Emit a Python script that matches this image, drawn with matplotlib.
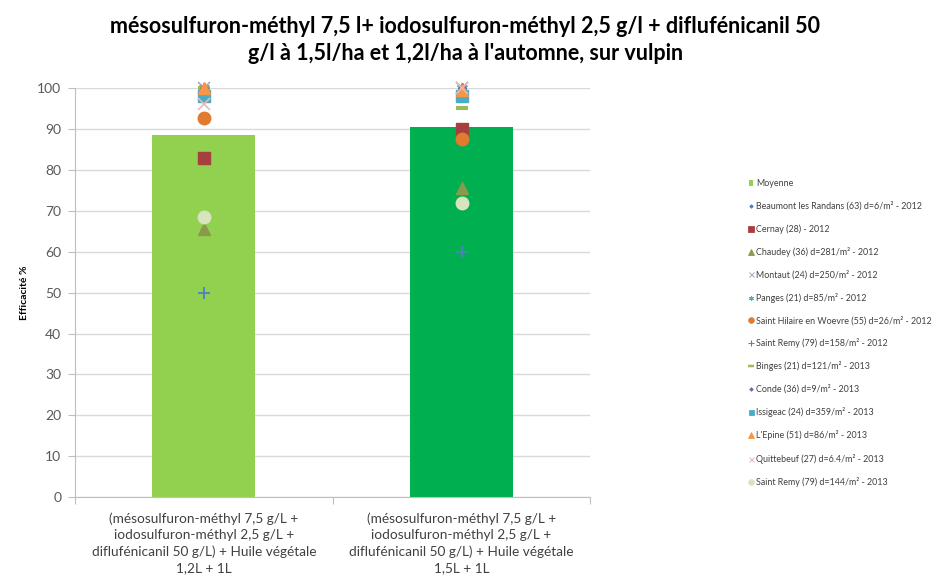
import matplotlib
matplotlib.use("Agg")
import matplotlib.pyplot as plt
from matplotlib.lines import Line2D
from matplotlib.patches import Patch

plt.rcParams['font.family'] = ['Lato', 'DejaVu Sans']

categories = [
    "(mésosulfuron-méthyl 7,5 g/L +\niodosulfuron-méthyl 2,5 g/L +\ndiflufénicanil 50 g/L) + Huile végétale\n1,2L + 1L",
    "(mésosulfuron-méthyl 7,5 g/L +\niodosulfuron-méthyl 2,5 g/L +\ndiflufénicanil 50 g/L) + Huile végétale\n1,5L + 1L",
]
moyenne = [88.5, 90.4]

site_names = [
    "Beaumont les Randans (63) d=6/m² - 2012",
    "Cernay (28) - 2012",
    "Chaudey (36) d=281/m² - 2012",
    "Montaut (24) d=250/m² - 2012",
    "Panges (21) d=85/m² - 2012",
    "Saint Hilaire en Woevre (55) d=26/m² - 2012",
    "Saint Remy (79) d=158/m² - 2012",
    "Binges (21) d=121/m² - 2013",
    "Conde (36) d=9/m² - 2013",
    "Issigeac (24) d=359/m² - 2013",
    "L'Epine (51) d=86/m² - 2013",
    "Quittebeuf (27) d=6.4/m² - 2013",
    "Saint Remy (79) d=144/m² - 2013",
]
site_values = [
    [100, 100],
    [83, 90],
    [65.5, 75.5],
    [100, 100],
    [100, 100],
    [92.6, 87.5],
    [50, 60],
    [100, 95],
    [100, 100],
    [98, 98],
    [100, 99.5],
    [96, 100],
    [68.5, 71.8],
]

site_styles = [
    dict(marker='D', color='#4F81BD', ms=4),
    dict(marker='s', color='#A5403E', ms=9),
    dict(marker='^', color='#8A9A4A', ms=9),
    dict(marker='x', color='#B3A2C7', ms=8, mew=1.2),
    dict(marker=(6, 2, 0), color='#4BACC6', ms=8, mew=1.2),
    dict(marker='o', color='#E07B30', ms=9),
    dict(marker='+', color='#4F81BD', ms=9, mew=1.3),
    dict(marker='_', color='#9BBB59', ms=9, mew=3),
    dict(marker='D', color='#8064A2', ms=4),
    dict(marker='s', color='#4BACC6', ms=8),
    dict(marker='^', color='#F79646', ms=9),
    dict(marker='x', color='#E6B9B8', ms=8, mew=1.2),
    dict(marker='o', color='#D7E4BD', ms=9),
]

bar_colors = ['#92D050', '#00B050']

fig = plt.figure(figsize=(9.44, 5.85), dpi=100)
ax = fig.add_axes([0.0795, 0.150, 0.546, 0.6996])

x = list(range(len(categories)))
ax.bar(x, moyenne, width=0.4, color=bar_colors, zorder=2)

for vals, st in zip(site_values, site_styles):
    st = dict(st)
    color = st.pop('color')
    ms = st.pop('ms')
    mew = st.pop('mew', 1.0)
    ax.plot(x, vals, linestyle='none', color=color, markerfacecolor=color,
            markeredgecolor=color, markersize=ms, markeredgewidth=mew,
            zorder=3, clip_on=False, **st)

ax.set_xlim(-0.5, 1.5)
ax.set_ylim(0, 100)
ax.set_yticks(range(0, 101, 10))
ax.yaxis.grid(True, color='#D9D9D9', linewidth=1)
ax.set_axisbelow(True)
ax.set_xticks([-0.5, 0.5, 1.5])
ax.set_xticklabels([])
ax.set_xticks(x, minor=True)
ax.set_xticklabels(categories, minor=True, fontsize=9.8, color='#404040',
                   linespacing=1.42)
ax.tick_params(axis='x', which='minor', length=0, pad=11)
ax.tick_params(axis='x', which='major', length=5, color='#BFBFBF')
ax.tick_params(axis='y', length=5, color='#BFBFBF', labelsize=10,
               labelcolor='#595959', pad=5)
for side in ['top', 'right']:
    ax.spines[side].set_visible(False)
for side in ['left', 'bottom']:
    ax.spines[side].set_color('#BFBFBF')

ax.set_ylabel("Efficacité %", fontsize=7.5, fontweight='bold', labelpad=6)

fig.text(0.493, 0.972,
         "mésosulfuron-méthyl 7,5 l+ iodosulfuron-méthyl 2,5 g/l + diflufénicanil 50\n"
         "g/l à 1,5l/ha et 1,2l/ha à l'automne, sur vulpin",
         ha='center', va='top', fontsize=15.5, fontweight='bold',
         linespacing=1.35)

handles = [Patch(facecolor=bar_colors[0], edgecolor='none')]
for st in site_styles:
    st = dict(st)
    color = st.pop('color')
    ms = st.pop('ms')
    mew = st.pop('mew', 1.0)
    handles.append(Line2D([], [], linestyle='none', color=color,
                          markerfacecolor=color, markeredgecolor=color,
                          markersize=ms * 0.45, markeredgewidth=mew * 0.6, **st))
labels = ["Moyenne"] + site_names
fig.legend(handles, labels, loc='upper left', bbox_to_anchor=(0.785, 0.707),
           frameon=False, fontsize=6.4, labelspacing=1.48, handlelength=0.5,
           handletextpad=0.3, handleheight=0.6, labelcolor='#404040')

fig.savefig("out.png", dpi=100)
